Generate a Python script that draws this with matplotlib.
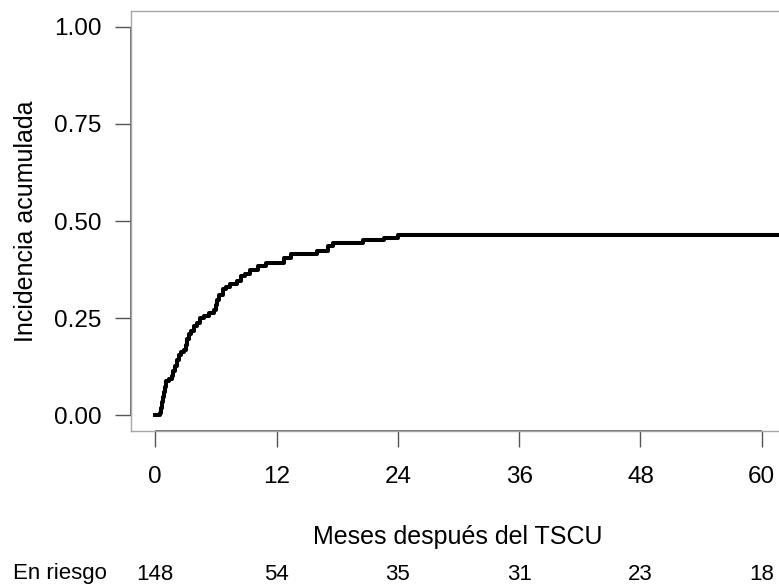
import matplotlib
matplotlib.use("Agg")
import matplotlib.pyplot as plt
from matplotlib.transforms import blended_transform_factory

# ---- data ----
event_times = [0.0, 0.5, 0.6, 0.7, 0.8, 0.9, 1.0, 1.1, 1.4, 1.65, 1.8, 2.0, 2.15, 2.3,
               2.5, 2.8, 3.0, 3.15, 3.3, 3.55, 3.8, 4.1, 4.45, 4.8, 5.3, 5.8, 6.0,
               6.15, 6.3, 6.7, 7.0, 7.4, 8.1, 8.5, 8.9, 9.4, 10.2, 11.0, 12.7, 13.4,
               16.0, 17.1, 17.6, 20.6, 22.6, 24.0, 63.0]
cum_incidence = [0.0, 0.007, 0.020, 0.034, 0.047, 0.061, 0.074, 0.088, 0.095, 0.101,
                 0.115, 0.128, 0.142, 0.155, 0.162, 0.169, 0.182, 0.196, 0.209, 0.216,
                 0.230, 0.237, 0.250, 0.257, 0.264, 0.270, 0.284, 0.297, 0.311, 0.324,
                 0.331, 0.338, 0.345, 0.358, 0.365, 0.375, 0.384, 0.392, 0.405, 0.414,
                 0.422, 0.435, 0.444, 0.451, 0.457, 0.465, 0.465]

x_ticks = [0, 12, 24, 36, 48, 60]
y_ticks = [0.0, 0.25, 0.5, 0.75, 1.0]
y_tick_labels = ["0.00", "0.25", "0.50", "0.75", "1.00"]
risk_times = [0, 12, 24, 36, 48, 60]
risk_counts = [148, 54, 35, 31, 23, 18]

xlabel = "Meses después del TSCU"
ylabel = "Incidencia acumulada"
risk_label = "En riesgo"

# ---- figure ----
W, H = 779, 586
plt.rcParams['font.family'] = ['Liberation Sans', 'DejaVu Sans']
fig = plt.figure(figsize=(W / 100, H / 100), dpi=100)

left_px, right_px, top_px, bottom_px = 131, 786, 11, 431
ax = fig.add_axes([left_px / W, (H - bottom_px) / H,
                   (right_px - left_px) / W, (bottom_px - top_px) / H])

ax.step(event_times, cum_incidence, where='post', color='black', lw=2.9,
        solid_joinstyle='round')

ax.set_xlim(-2.4, 62.4)
ax.set_ylim(-0.04, 1.04)

for s in ax.spines.values():
    s.set_color('#a6a6a6')
    s.set_linewidth(1.0)

# axis lines (R style, only across the tick range)
ax.plot([0, 0], [y_ticks[0], y_ticks[-1]], transform=ax.get_yaxis_transform(),
        color='#555555', lw=1.2, clip_on=False, solid_capstyle='butt')
ax.plot([x_ticks[0], x_ticks[-1]], [0, 0], transform=ax.get_xaxis_transform(),
        color='#555555', lw=1.2, clip_on=False, solid_capstyle='butt')

fs_tick = 17.5
fs_lab = 18
fs_risk = 16
ax.set_xticks(x_ticks)
ax.set_xticklabels([str(t) for t in x_ticks], fontsize=fs_tick)
ax.set_yticks(y_ticks)
ax.set_yticklabels(y_tick_labels, fontsize=fs_tick)
ax.tick_params(axis='x', direction='out', length=11.5, width=1.0, color='#555555',
               pad=14, labelcolor='black')
ax.tick_params(axis='y', direction='out', length=11.5, width=1.0, color='#555555',
               pad=10, labelcolor='black')

# labels
fig.text(458 / W, 1 - 537 / H, xlabel, ha='center', va='center', fontsize=fs_lab)
fig.text(26 / W, 1 - 221 / H, ylabel, ha='center', va='center', rotation=90,
         fontsize=fs_lab)

# risk table
tr = blended_transform_factory(ax.transData, fig.transFigure)
for t, n in zip(risk_times, risk_counts):
    ax.text(t, 1 - 574 / H, str(n), transform=tr, ha='center', va='center',
            fontsize=fs_risk, clip_on=False)
fig.text(13 / W, 1 - 574 / H, risk_label, ha='left', va='center', fontsize=fs_risk)

fig.savefig("out.png", dpi=100)
